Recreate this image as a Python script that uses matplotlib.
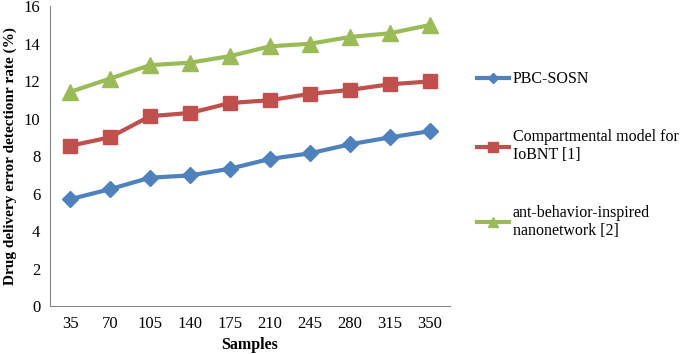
import matplotlib
matplotlib.use("Agg")
import matplotlib.pyplot as plt

plt.rcParams['font.family'] = ['Liberation Serif', 'DejaVu Serif']

samples = ['35', '70', '105', '140', '175', '210', '245', '280', '315', '350']
pbc_sosn = [5.7, 6.24, 6.85, 6.97, 7.33, 7.85, 8.15, 8.63, 9.0, 9.33]
compartmental = [8.55, 9.0, 10.13, 10.3, 10.83, 10.98, 11.32, 11.53, 11.83, 11.98]
ant_behavior = [11.42, 12.13, 12.85, 12.98, 13.33, 13.85, 13.99, 14.35, 14.55, 14.99]

labels = ['PBC-SOSN', 'Compartmental model for\nIoBNT [1]', 'ant-behavior-inspired\nnanonetwork [2]']
colors = ['#4F81BD', '#C0504D', '#9BBB59']
markers = ['D', 's', '^']
msizes = [8, 10, 11]

fig = plt.figure(figsize=(6.85, 3.54), dpi=100)
ax = fig.add_axes([0.073, 0.135, 0.584, 0.848])

x = list(range(len(samples)))
for ys, lab, c, m, ms in zip([pbc_sosn, compartmental, ant_behavior], labels, colors, markers, msizes):
    ax.plot(x, ys, color=c, marker=m, markersize=ms, linewidth=3, label=lab)

ax.set_xlim(-0.5, len(samples) - 0.5)
ax.set_ylim(0, 16)
ax.set_yticks(range(0, 17, 2))
ax.set_xticks(x)
ax.set_xticklabels(samples)
ax.tick_params(length=0, labelsize=12, pad=7)
ax.tick_params(axis='y', pad=7)

for s in ['top', 'right']:
    ax.spines[s].set_visible(False)
for s in ['left', 'bottom']:
    ax.spines[s].set_color('#868686')

ax.set_xlabel('Samples', fontsize=11.5, fontweight='bold', labelpad=4)
ax.set_ylabel('Drug delivery error detectionr rate (%)', fontsize=11, fontweight='bold', labelpad=5)

leg = fig.legend(loc='upper left', bbox_to_anchor=(0.675, 0.839), frameon=False,
                 fontsize=11.5, labelspacing=2.6, handlelength=2.0, handletextpad=0.25,
                 markerscale=0.7)

fig.savefig('out.png', dpi=100)
